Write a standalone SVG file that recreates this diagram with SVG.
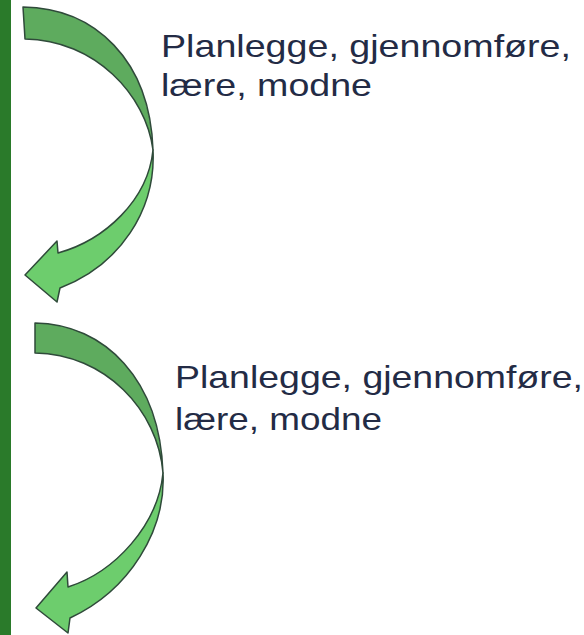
<svg xmlns="http://www.w3.org/2000/svg" width="584" height="635" viewBox="0 0 584 635">
<style>
.back{fill:#5eab5e;stroke:#2f4a3a;stroke-width:1.5;stroke-linejoin:round}
.front{fill:#6dcd6d;stroke:#2f4a3a;stroke-width:1.5;stroke-linejoin:round}
.lbl{font-family:"Liberation Sans",Arial,sans-serif;font-size:32px;fill:#232b45}
</style>
<rect x="0" y="0" width="584" height="635" fill="#ffffff"/>
<rect id="bar" x="0" y="0" width="11" height="635" fill="#2a7a2a"/>
<g id="connectors">
<g id="arrow1">
<path class="back" d="M23,7 C95,8 150,60 153,150 C146,95 95,40 25,39 Z"/>
<path class="front" d="M153,150 C156,210 120,265 60,288 L57,302 L25,275 L57,241 L58,253 C105,240 148,200 153,150 Z"/>
</g>
<g id="arrow2">
<path class="back" d="M35,323 C105,324 160,380 163,473 C158,410 105,354 35,353 Z"/>
<path class="front" d="M163,473 C166,530 130,590 70,618 L68,633 L36,608 L67,572 L68,587 C115,572 158,525 163,473 Z"/>
</g>
</g>
<g id="label1">
<text class="lbl" x="161" y="57" textLength="410" lengthAdjust="spacingAndGlyphs">Planlegge, gjennomføre,</text>
<text class="lbl" x="161" y="96" textLength="211" lengthAdjust="spacingAndGlyphs">lære, modne</text>
</g>
<g id="label2">
<text class="lbl" x="175" y="388" textLength="408" lengthAdjust="spacingAndGlyphs">Planlegge, gjennomføre,</text>
<text class="lbl" x="175" y="430" textLength="207" lengthAdjust="spacingAndGlyphs">lære, modne</text>
</g>
</svg>
